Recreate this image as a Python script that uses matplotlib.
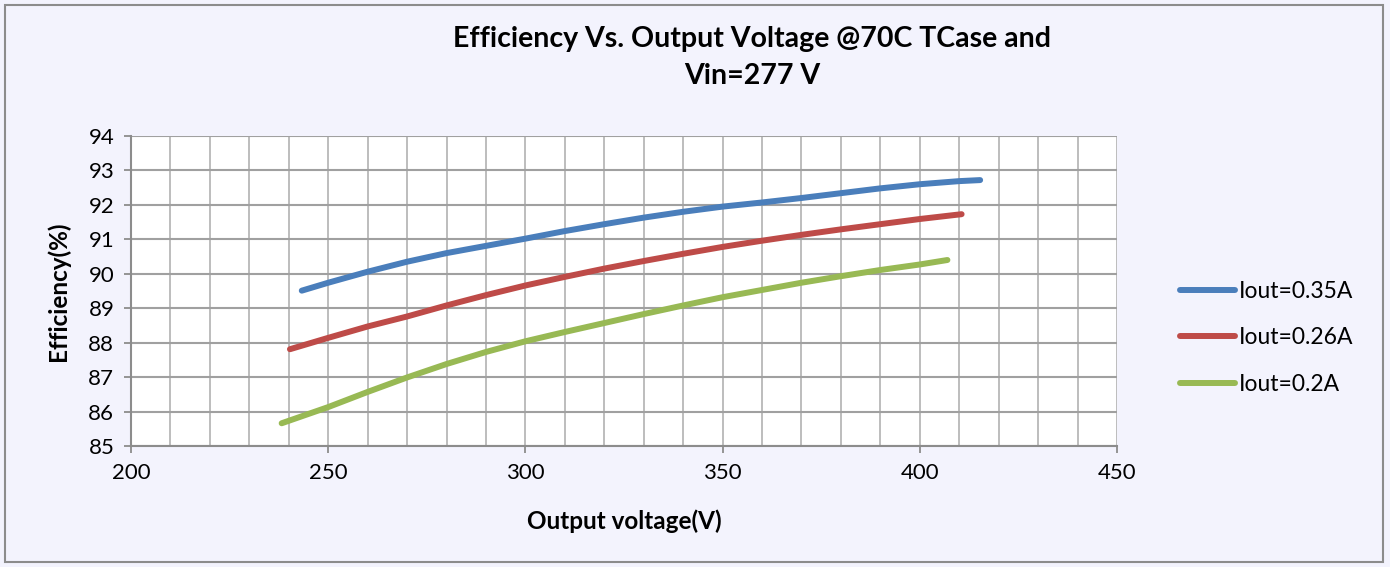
import matplotlib.pyplot as plt
from matplotlib.patches import Rectangle

plt.rcParams['font.family'] = ['Lato', 'DejaVu Sans']

# Output voltage (V) and efficiency (%) for each output current
v_035 = [243.3, 250, 260, 270, 280, 290, 300, 310, 320, 330, 340, 350, 360, 370, 380, 390, 400, 410, 415.3]
eff_035 = [89.51, 89.74, 90.06, 90.35, 90.60, 90.81, 91.02, 91.24, 91.44, 91.63, 91.80, 91.95, 92.07, 92.20, 92.34, 92.48, 92.60, 92.69, 92.72]

v_026 = [240.3, 250, 260, 270, 280, 290, 300, 310, 320, 330, 340, 350, 360, 370, 380, 390, 400, 410.6]
eff_026 = [87.81, 88.14, 88.47, 88.76, 89.08, 89.38, 89.66, 89.91, 90.15, 90.37, 90.58, 90.78, 90.96, 91.13, 91.29, 91.44, 91.59, 91.73]

v_02 = [238.2, 250, 260, 270, 280, 290, 300, 310, 320, 330, 340, 350, 360, 370, 380, 390, 400, 407]
eff_02 = [85.66, 86.13, 86.57, 86.99, 87.38, 87.73, 88.04, 88.31, 88.57, 88.83, 89.08, 89.32, 89.53, 89.74, 89.93, 90.11, 90.27, 90.40]

labels = ["Iout=0.35A", "Iout=0.26A", "Iout=0.2A"]
colors = ["#4A7EBB", "#BE4B48", "#98B954"]

bg = "#F3F3FD"
fig = plt.figure(figsize=(13.9, 5.67), dpi=100, facecolor=bg)
fig.patches.append(Rectangle((5 / 1390, 5 / 567), 1378 / 1390, 557 / 567, transform=fig.transFigure,
                             fill=False, edgecolor="#8C8C8C", linewidth=1.5))

ax = fig.add_axes([131 / 1390, 1 - 446 / 567, 986 / 1390, 310 / 567])
ax.set_facecolor("white")

for v, e, lab, c in zip([v_035, v_026, v_02], [eff_035, eff_026, eff_02], labels, colors):
    ax.plot(v, e, color=c, linewidth=4.3, solid_capstyle="round", solid_joinstyle="round",
            label=lab, zorder=3)

ax.set_xlim(200, 450)
ax.set_ylim(85, 94)
ax.set_xticks(range(200, 451, 50))
ax.set_xticks(range(200, 451, 10), minor=True)
ax.set_yticks(range(85, 95))
ax.grid(True, which="both", axis="x", color="#B8B8B8", linewidth=1.3)
ax.grid(True, which="major", axis="y", color="#A0A0A0", linewidth=1.5)
ax.set_axisbelow(True)
ax.tick_params(axis="both", which="major", direction="out", length=5, width=1.3, color="#8C8C8C",
               labelsize=16, pad=7)
ax.tick_params(axis="x", which="minor", length=0)
for s in ["top", "right"]:
    ax.spines[s].set_visible(False)
for s in ["left", "bottom"]:
    ax.spines[s].set_color("#8C8C8C")
    ax.spines[s].set_linewidth(1.5)

ax.set_xlabel("Output voltage(V)", fontsize=17.5, fontweight="bold", labelpad=19)
ax.set_ylabel("Efficiency(%)", fontsize=17.5, fontweight="bold", labelpad=13)

fig.text(752 / 1390, 1 - 39 / 567, "Efficiency Vs. Output Voltage @70C TCase and",
         ha="center", va="center", fontsize=20.5, fontweight="bold")
fig.text(752 / 1390, 1 - 76 / 567, "Vin=277 V", ha="center", va="center", fontsize=20.5, fontweight="bold")

fig.legend(loc="center left", bbox_to_anchor=(1159 / 1390, 1 - 338 / 567), frameon=False,
           fontsize=16.5, handlelength=2.4, handletextpad=0.2, labelspacing=1.12)

fig.savefig("out.png", dpi=100, facecolor=bg)
